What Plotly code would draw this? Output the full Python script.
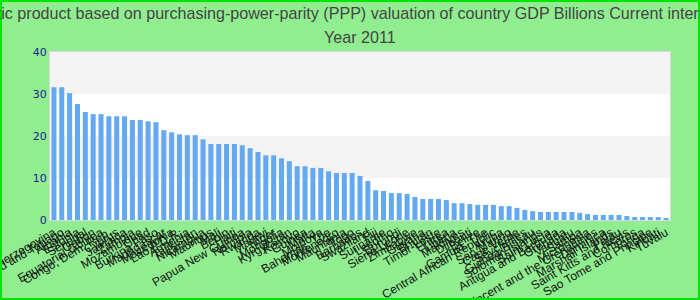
import plotly.graph_objects as go

countries = [
    "Bosnia and Herzegovina", "Trinidad and Tobago", "Albania", "Estonia", "Senegal",
    "Gabon", "Equatorial Guinea", "Congo, Dem. Rep.", "Cyprus", "Jamaica",
    "Zambia", "Mozambique", "Chad", "Burkina Faso", "Madagascar",
    "Macedonia", "Lao P.D.R.", "Armenia", "Tajikistan", "Nicaragua",
    "Mauritius", "Mali", "Benin", "Haiti", "Papua New Guinea",
    "Namibia", "Rwanda", "Malawi", "Niger", "Mongolia",
    "Kyrgyzstan", "Kosovo", "Guinea", "Malta", "Moldova",
    "Bahamas, The", "Montenegro", "Mauritania", "Togo", "Barbados",
    "Swaziland", "Fiji", "Suriname", "Lesotho", "Burundi",
    "Sierra Leone", "Zimbabwe", "Guyana", "Bhutan", "Timor-Leste",
    "Eritrea", "Liberia", "Maldives", "Djibouti", "Belize",
    "Gambia, The", "Central African Republic", "Aruba", "San Marino", "Cape Verde",
    "Seychelles", "Guinea-Bissau", "Solomon Islands", "Saint Lucia", "Antigua and Barbuda",
    "Grenada", "Vanuatu", "Samoa", "Micronesia", "Saint Vincent and the Grenadines",
    "Dominica", "Marshall Islands", "Palau", "Saint Kitts and Nevis", "Comoros",
    "Tonga", "Sao Tome and Principe", "Kiribati", "Tuvalu",
]

gdp_ppp_2011 = [
    31.6, 31.6, 30.2, 27.6, 25.7,
    25.2, 25.2, 24.7, 24.7, 24.7,
    23.8, 23.8, 23.5, 23.3, 21.4,
    20.9, 20.4, 20.2, 20.2, 19.2,
    18.1, 18.1, 18.1, 18.1, 17.8,
    17.1, 16.2, 15.4, 15.4, 14.7,
    14.0, 12.8, 12.8, 12.4, 12.4,
    11.6, 11.2, 11.2, 11.2, 10.5,
    9.3, 7.1, 6.9, 6.4, 6.4,
    6.2, 5.5, 5.0, 5.0, 5.0,
    4.75, 4.0, 4.0, 3.8, 3.6,
    3.6, 3.6, 3.3, 3.3, 2.9,
    2.4, 2.1, 1.9, 1.9, 1.9,
    1.9, 1.9, 1.7, 1.4, 1.2,
    1.2, 1.2, 1.2, 0.95, 0.7,
    0.7, 0.7, 0.7, 0.24,
]

y_ticks = [0, 10, 20, 30, 40]

title_line1 = ("Gross domestic product based on purchasing-power-parity (PPP) valuation "
               "of country GDP Billions Current international dollar")
title_line2 = "Year 2011"

fig = go.Figure()
fig.add_trace(go.Bar(
    x=countries, y=gdp_ppp_2011,
    marker=dict(color="#64a9f0", line=dict(width=0)),
    hoverinfo="x+y",
))

shapes = []
for lo, hi in [(10, 20), (30, 40)]:
    shapes.append(dict(type="rect", xref="paper", yref="y", x0=0, x1=1, y0=lo, y1=hi,
                       fillcolor="#f3f3f3", line=dict(width=0), layer="below"))
# outer border
W, H = 700, 300
L, R, T, B = 50, 30, 52, 80
pw, ph = W - L - R, H - T - B
shapes.append(dict(type="rect", xref="paper", yref="paper",
                   x0=(-L + 1) / pw, x1=1 + (R - 1) / pw,
                   y0=(-B + 1) / ph, y1=1 + (T - 1) / ph,
                   line=dict(color="#00e600", width=2), fillcolor="rgba(0,0,0,0)", layer="above"))

title_font = dict(family="Liberation Sans, Arial, sans-serif", size=16.1, color="#444444")

fig.update_layout(
    width=W, height=H,
    margin=dict(l=L, r=R, t=T, b=B, autoexpand=False),
    paper_bgcolor="#90ee90",
    plot_bgcolor="#ffffff",
    bargap=0.36,
    showlegend=False,
    shapes=shapes,
    title=dict(text=title_line1, x=0.5, xanchor="center",
               y=1 - 13 / H, yanchor="middle", yref="container", automargin=False,
               font=title_font),
    annotations=[dict(text=title_line2, xref="paper", yref="paper", x=0.5,
                      y=1 + (T - 37) / ph, xanchor="center", yanchor="middle",
                      showarrow=False, font=title_font)],
    font=dict(family="Liberation Sans, Arial, sans-serif"),
)
fig.update_xaxes(
    tickmode="array", tickvals=countries, ticktext=countries,
    tickangle=-30, tickfont=dict(size=12, color="#111111"),
    showline=True, linecolor="#d9d9d9", linewidth=1, mirror=True,
    showgrid=False, ticks="", automargin=False,
)
fig.update_yaxes(
    range=[0, 40], tickmode="array", tickvals=y_ticks,
    tickfont=dict(family="DejaVu Sans, sans-serif", size=11, color="#1a1a8c"),
    showline=True, linecolor="#d9d9d9", linewidth=1, mirror=True,
    showgrid=False, zeroline=False, ticks="", automargin=False,
)

fig.write_html("out.html")
